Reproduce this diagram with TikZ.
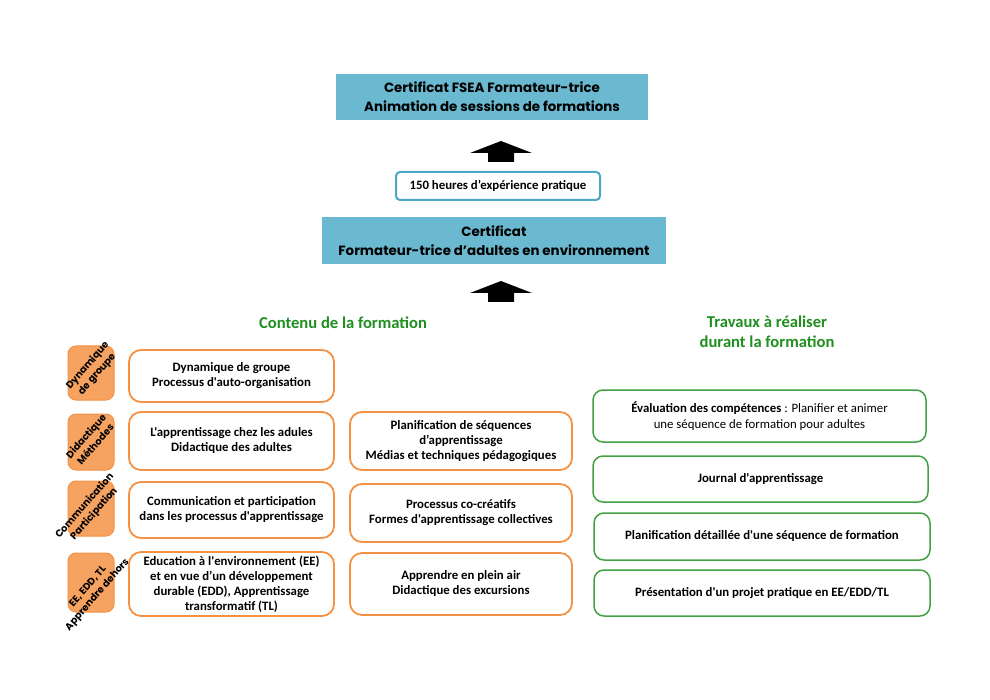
\documentclass[tikz,border=0pt]{standalone}
\usepackage{fontspec}
\setmainfont{Carlito}[Ligatures=TeXOff]
\newfontfamily\geo{Poppins}
\definecolor{hdrblue}{HTML}{6BB9D0}
\definecolor{hrsblue}{HTML}{4AA8C6}
\definecolor{orgline}{HTML}{F39244}
\definecolor{orgfill}{HTML}{F6A261}
\definecolor{grnline}{HTML}{44A244}
\definecolor{grntext}{HTML}{1F8F1F}
\begin{document}
\begin{tikzpicture}[x=1pt,y=-1pt,
  hdr/.style={fill=hdrblue, draw=none, align=center, inner sep=0pt,
    font=\geo\bfseries\fontsize{13.4}{18.7}\selectfont},
  hrs/.style={draw=hrsblue, line width=2pt, rounded corners=4pt, fill=white,
    inner sep=0pt, font=\bfseries\fontsize{12.8}{15}\selectfont},
  obox/.style={draw=orgline, line width=1.8pt, rounded corners=12pt, align=center,
    inner sep=0pt, font=\bfseries\fontsize{12.8}{15}\selectfont},
  osq/.style={draw=orgline, fill=orgfill, line width=1pt, rounded corners=8pt,
    inner sep=0pt, minimum width=46pt},
  olab/.style={rotate=49, align=center, inner sep=0pt,
    font=\geo\bfseries\fontsize{9.8}{12.5}\selectfont},
  gbox/.style={draw=grnline, line width=1.5pt, rounded corners=10pt, align=center,
    inner sep=0pt, font=\fontsize{12.8}{15.5}\selectfont},
  gboxb/.style={gbox, font=\bfseries\fontsize{12.8}{15}\selectfont},
  gtitle/.style={text=grntext, align=center, inner sep=0pt,
    font=\bfseries\fontsize{16.6}{19.5}\selectfont},
  blockarrow/.style={fill=black}
]
\useasboundingbox (0,0) rectangle (990,700);
\fill[white] (0,0) rectangle (990,700);

% headers
\node[hdr, minimum width=312pt, minimum height=46pt] (top) at (492,97)
  {Certificat FSEA Formateur-trice\\Animation de sessions de formations};
\node[hrs, minimum width=204pt, minimum height=28pt] (hrs) at (498,186)
  {150 heures d’expérience pratique};
\node[hdr, minimum width=344pt, minimum height=47pt] (cert) at (494,240.5)
  {Certificat\\Formateur-trice d’adultes en environnement};

% block arrows
\coordinate (a1) at (501,141);
\coordinate (a2) at (501,281);
\foreach \c in {a1,a2}{
  \fill[blockarrow] (\c) -- ++(31,12) -- ++(-18,0) -- ++(0,9) -- ++(-26,0)
    -- ++(0,-9) -- ++(-18,0) -- cycle;
}

% titles
\node[gtitle] (t1) at (343,323) {Contenu de la formation};
\node[gtitle] (t2) at (767,331.5) {Travaux à réaliser\\durant la formation};

% orange squares with rotated labels
\node[osq, minimum height=54pt] (s1) at (91,373) {};
\node[osq, minimum height=56pt] (s2) at (91,442) {};
\node[osq, minimum height=55pt] (s3) at (91,508.5) {};
\node[osq, minimum height=59pt] (s4) at (91,582.5) {};
\node[olab] (l1) at (92.5,370) {Dynamique\\de groupe};
\node[olab] (l2) at (90.5,440) {Didactique\\Méthodes};
\node[olab] (l3) at (89.5,510) {Communication\\Participation};
\node[olab] (l4) at (93,591) {EE, EDD, TL\\Apprendre dehors};

% left column
\node[obox, minimum width=205pt, minimum height=52pt] (c11) at (231.5,376)
  {Dynamique de groupe\\Processus d'auto-organisation};
\node[obox, minimum width=205pt, minimum height=58pt] (c21) at (231.5,441)
  {L'apprentissage chez les adules\\Didactique des adultes};
\node[obox, minimum width=205pt, minimum height=56pt] (c31) at (231.5,510)
  {Communication et participation\\dans les processus d'apprentissage};
\node[obox, minimum width=205pt, minimum height=64pt] (c41) at (231.5,584)
  {Education à l'environnement (EE)\\et en vue d’un développement\\durable (EDD), Apprentissage\\transformatif (TL)};

% middle column
\node[obox, minimum width=222pt, minimum height=58pt] (c22) at (461,441)
  {Planification de séquences\\d’apprentissage\\Médias et techniques pédagogiques};
\node[obox, minimum width=222pt, minimum height=58pt] (c32) at (461,513)
  {Processus co-créatifs\\Formes d'apprentissage collectives};
\node[obox, minimum width=222pt, minimum height=62pt] (c42) at (461,584)
  {Apprendre en plein air\\Didactique des excursions};

% right column
\node[gbox, minimum width=333pt, minimum height=52pt] (r1) at (759.5,416)
  {\textbf{Évaluation des compétences} : Planifier et animer\\une séquence de formation pour adultes};
\node[gboxb, minimum width=335pt, minimum height=46pt] (r2) at (760.5,479)
  {Journal d'apprentissage};
\node[gboxb, minimum width=336pt, minimum height=47pt] (r3) at (762,536.5)
  {Planification détaillée d'une séquence de formation};
\node[gboxb, minimum width=336pt, minimum height=46pt] (r4) at (762,593)
  {Présentation d'un projet pratique en EE/EDD/TL};
\end{tikzpicture}
\end{document}
